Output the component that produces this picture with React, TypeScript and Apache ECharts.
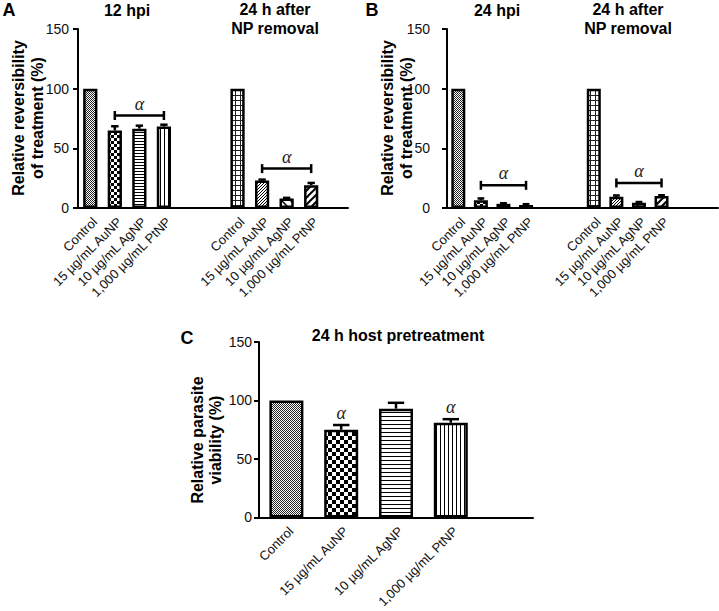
import React, { useEffect, useRef } from 'react';
import * as echarts from 'echarts';

// ---------- data ----------
const groupLabels = ['Control', '15 µg/mL AuNP', '10 µg/mL AgNP', '1,000 µg/mL PtNP'];
const catsA = [...groupLabels, '', '', ...groupLabels, ''];
const catsB = [...groupLabels, '', '', ...groupLabels, '', ''];
const catsC = [...groupLabels, ''];

const valuesA = [100, 65, 66.5, 68.3, null, null, 100, 23, 8, 19, null];
const errorsA = [0, 3.5, 2.5, 1.5, null, null, 0, 0.8, 0.5, 2, null];
const valuesB = [100, 6.5, 3.5, 2.5, null, null, 100, 9.5, 4.5, 10, null, null];
const errorsB = [0, 1.5, 0.5, 0.7, null, null, 0, 1, 0.5, 0.7, null, null];
const valuesC = [100, 75, 93, 81, null];
const errorsC = [0, 4, 5, 3, null];

// brackets: [fromIndex, yValue, toIndex]
const bracketsA = [[1, 77.5, 3], [7, 33, 9]];
const bracketsB = [[1, 19, 3], [7, 21, 9]];
// alpha marks in C: [index, yValue]
const alphaC = [[1, 89], [3, 94]];

const yTicks = { min: 0, max: 150, interval: 50 };

// pattern styles per bar
const patA = ['fine', 'check3', 'hline3', 'vline4', null, null, 'grid', 'fdiag', 'bdiag', 'wdiag', null];
const patB = ['fine', 'check3', 'hline3', 'vline4', null, null, 'grid', 'fdiag', 'bdiag', 'wdiag', null, null];
const patC = ['fine', 'check4', 'hline4', 'vline4', null];

function makePattern(kind: string): any {
  const c = document.createElement('canvas');
  let w = 4, h = 4;
  const setup = (ww: number, hh: number) => {
    w = ww; h = hh; c.width = ww; c.height = hh;
    const ctx = c.getContext('2d')!;
    ctx.fillStyle = '#fff';
    ctx.fillRect(0, 0, ww, hh);
    ctx.fillStyle = '#000';
    return ctx;
  };
  const diag = (s: number, forward: boolean, lw: number) => {
    const ctx = setup(s, s);
    ctx.strokeStyle = '#000';
    ctx.lineWidth = lw;
    for (const off of [-s, 0, s]) {
      ctx.beginPath();
      if (forward) { ctx.moveTo(off - 1, s + 1); ctx.lineTo(off + s + 1, -1); }
      else { ctx.moveTo(off - 1, -1); ctx.lineTo(off + s + 1, s + 1); }
      ctx.stroke();
    }
  };
  switch (kind) {
    case 'fine': {
      const ctx = setup(2, 2);
      ctx.fillStyle = '#222';
      ctx.fillRect(0, 0, 1, 1); ctx.fillRect(1, 1, 1, 1);
      break;
    }
    case 'check3': {
      const ctx = setup(6, 6);
      ctx.fillRect(0, 0, 3, 3); ctx.fillRect(3, 3, 3, 3);
      break;
    }
    case 'check4': {
      const ctx = setup(8, 8);
      ctx.fillRect(0, 0, 4, 4); ctx.fillRect(4, 4, 4, 4);
      break;
    }
    case 'hline3': { const ctx = setup(4, 3); ctx.fillRect(0, 0, 4, 1); break; }
    case 'hline4': { const ctx = setup(4, 4); ctx.fillRect(0, 0, 4, 1); break; }
    case 'vline4': { const ctx = setup(4, 4); ctx.fillRect(0, 0, 1, 4); break; }
    case 'grid': {
      const ctx = setup(5, 5);
      ctx.fillStyle = '#222';
      ctx.fillRect(0, 0, 5, 1); ctx.fillRect(0, 0, 1, 5);
      break;
    }
    case 'fdiag': {
      const ctx = setup(3, 3);
      ctx.fillRect(0, 2, 1, 1); ctx.fillRect(1, 1, 1, 1); ctx.fillRect(2, 0, 1, 1);
      break;
    }
    case 'bdiag': diag(9, false, 1.5); break;
    case 'wdiag': diag(7, true, 2); break;
    default: setup(4, 4);
  }
  return { image: c, repeat: 'repeat', imageWidth: w, imageHeight: h };
}

const FONT = '"Liberation Sans", Arial, Helvetica, sans-serif';

function barData(values: (number | null)[], pats: (string | null)[]) {
  return values.map((v, i) =>
    v == null ? null : { value: v, itemStyle: { color: makePattern(pats[i] as string) } }
  );
}

function errData(values: (number | null)[], errs: (number | null)[]) {
  const out: number[][] = [];
  values.forEach((v, i) => {
    const e = errs[i];
    if (v != null && e != null && e > 0) out.push([i, v, e]);
  });
  return out;
}

const errRender = (params: any, api: any) => {
  const idx = api.value(0), v = api.value(1), e = api.value(2);
  const p0 = api.coord([idx, v]);
  const p1 = api.coord([idx, v + e]);
  const w = api.size([1, 0])[0] * 0.15;
  const st = { stroke: '#000', lineWidth: 2.5 };
  return {
    type: 'group',
    children: [
      { type: 'line', shape: { x1: p0[0], y1: p0[1], x2: p1[0], y2: p1[1] }, style: st },
      { type: 'line', shape: { x1: p1[0] - w, y1: p1[1], x2: p1[0] + w, y2: p1[1] }, style: st },
    ],
  };
};

const ALPHA_FONT = 'italic 18px "Liberation Serif", "Times New Roman", serif';

const bracketRender = (params: any, api: any) => {
  const y = api.value(1);
  const p1 = api.coord([api.value(0), y]);
  const p2 = api.coord([api.value(2), y]);
  const st = { stroke: '#000', lineWidth: 2.5 };
  return {
    type: 'group',
    children: [
      { type: 'line', shape: { x1: p1[0], y1: p1[1], x2: p2[0], y2: p2[1] }, style: st },
      { type: 'line', shape: { x1: p1[0], y1: p1[1] - 4.5, x2: p1[0], y2: p1[1] + 4.5 }, style: st },
      { type: 'line', shape: { x1: p2[0], y1: p2[1] - 4.5, x2: p2[0], y2: p2[1] + 4.5 }, style: st },
      {
        type: 'text', x: (p1[0] + p2[0]) / 2, y: p1[1] - 12,
        style: { text: 'α', font: ALPHA_FONT, fill: '#222', align: 'center', verticalAlign: 'middle' },
      },
    ],
  };
};

const alphaRender = (params: any, api: any) => {
  const p = api.coord([api.value(0), api.value(1)]);
  return {
    type: 'text', x: p[0], y: p[1],
    style: { text: 'α', font: ALPHA_FONT, fill: '#222', align: 'center', verticalAlign: 'middle' },
  };
};

function xAxis(gridIndex: number, cats: string[]) {
  return {
    type: 'category', gridIndex, data: cats,
    axisLine: { lineStyle: { color: '#000', width: 2 } },
    axisTick: { alignWithLabel: true, interval: 0, length: 5, lineStyle: { color: '#000', width: 2 } },
    axisLabel: { interval: 0, rotate: 45, fontSize: 13, color: '#111', fontFamily: FONT, margin: 7, verticalAlign: 'top' },
  };
}

function yAxis(gridIndex: number, margin: number) {
  return {
    type: 'value', gridIndex, ...yTicks,
    axisLine: { show: true, lineStyle: { color: '#000', width: 2 } },
    axisTick: { show: true, length: 5, lineStyle: { color: '#000', width: 2 } },
    splitLine: { show: false },
    axisLabel: { fontSize: 14, color: '#111', fontFamily: FONT, margin },
  };
}

function txt(x: number, y: number, text: string, size: number, extra: any = {}) {
  return {
    type: 'text', x, y, ...extra,
    style: { text, font: `bold ${size}px ${FONT}`, fill: '#000', align: 'center', verticalAlign: 'middle', lineHeight: extra.lineHeight || size + 3 },
  };
}

export default function App() {
  const ref = useRef<HTMLDivElement>(null);
  useEffect(() => {
    if (!ref.current) return;
    const chart = echarts.init(ref.current, null, { renderer: 'svg' });
    const barCommon = { type: 'bar', itemStyle: { borderColor: '#000', borderWidth: 2.5 }, z: 2 };
    chart.setOption({
      animation: false,
      backgroundColor: '#fff',
      grid: [
        { left: 78, top: 29, width: 270, height: 179 },
        { left: 447, top: 29, width: 271, height: 179 },
        { left: 259, top: 342, width: 274, height: 177 },
      ],
      xAxis: [xAxis(0, catsA), xAxis(1, catsB), xAxis(2, catsC)],
      yAxis: [yAxis(0, 9), yAxis(1, 17), yAxis(2, 7)],
      series: [
        { ...barCommon, xAxisIndex: 0, yAxisIndex: 0, barWidth: '58%', data: barData(valuesA, patA) },
        { ...barCommon, xAxisIndex: 1, yAxisIndex: 1, barWidth: '62%', data: barData(valuesB, patB) },
        { ...barCommon, xAxisIndex: 2, yAxisIndex: 2, barWidth: '62%', data: barData(valuesC, patC) },
        { type: 'custom', xAxisIndex: 0, yAxisIndex: 0, renderItem: errRender, data: errData(valuesA, errorsA), z: 3 },
        { type: 'custom', xAxisIndex: 1, yAxisIndex: 1, renderItem: errRender, data: errData(valuesB, errorsB), z: 3 },
        { type: 'custom', xAxisIndex: 2, yAxisIndex: 2, renderItem: errRender, data: errData(valuesC, errorsC), z: 3 },
        { type: 'custom', xAxisIndex: 0, yAxisIndex: 0, renderItem: bracketRender, data: bracketsA, z: 4 },
        { type: 'custom', xAxisIndex: 1, yAxisIndex: 1, renderItem: bracketRender, data: bracketsB, z: 4 },
        { type: 'custom', xAxisIndex: 2, yAxisIndex: 2, renderItem: alphaRender, data: alphaC, z: 4 },
      ],
      graphic: [
        txt(9, 10, 'A', 18),
        txt(372, 10, 'B', 18),
        txt(187, 338, 'C', 18),
        txt(127, 10, '12 hpi', 16),
        txt(275, 19, '24 h after\nNP removal', 16, { lineHeight: 19 }),
        txt(497, 10, '24 hpi', 16),
        txt(628, 19, '24 h after\nNP removal', 16, { lineHeight: 19 }),
        txt(398, 335, '24 h host pretreatment', 16),
        txt(27.5, 118, 'Relative reversibility\nof treatment (%)', 16, { rotation: Math.PI / 2, lineHeight: 19 }),
        txt(397, 118, 'Relative reversibility\nof treatment (%)', 16, { rotation: Math.PI / 2, lineHeight: 19 }),
        txt(206.5, 440, 'Relative parasite\nviability (%)', 16, { rotation: Math.PI / 2, lineHeight: 18 }),
      ],
    });
    return () => chart.dispose();
  }, []);
  return <div ref={ref} style={{ position: 'fixed', left: 0, top: 0, width: 719, height: 611 }} />;
}
